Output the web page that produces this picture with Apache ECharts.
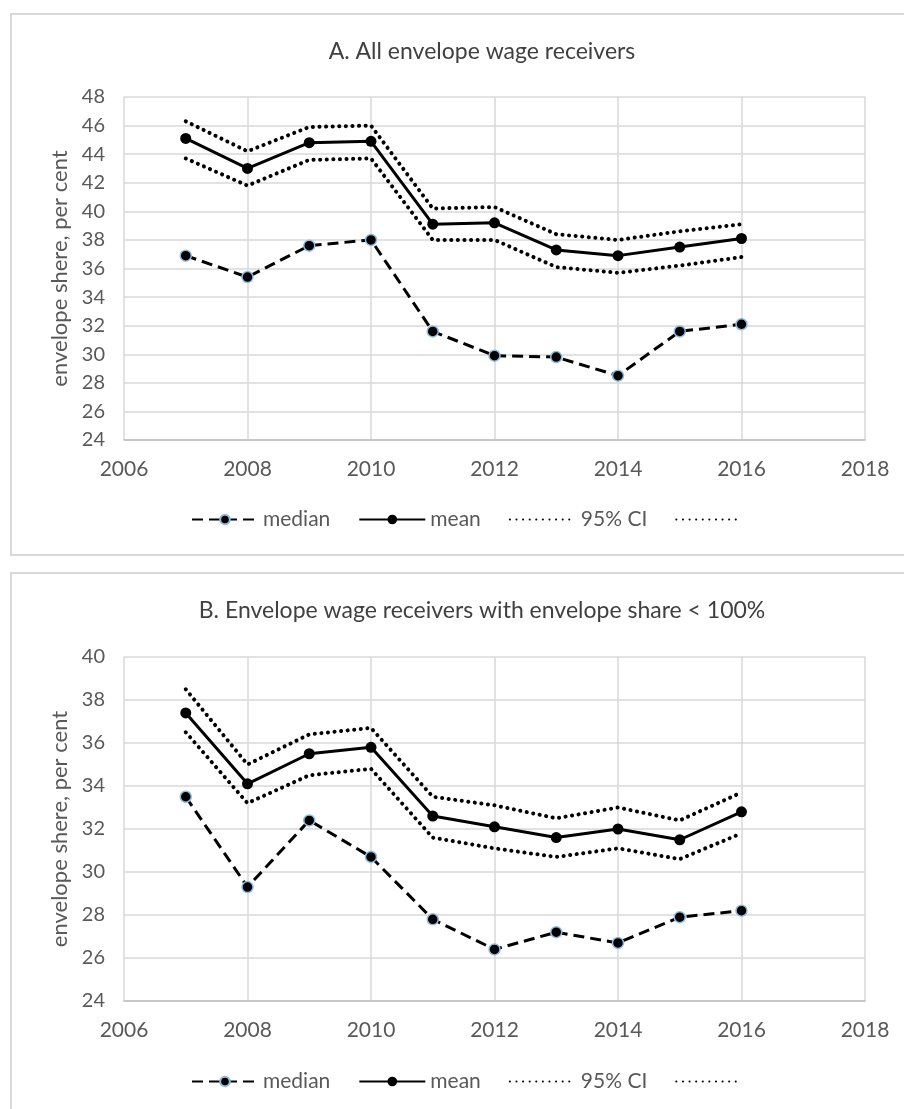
<!DOCTYPE html>
<html>
<head>
<meta charset="utf-8">
<title>envelope share</title>
<style>
  html, body, #main { margin: 0; padding: 0; width: 904px; height: 1109px; background: #fff; }
</style>
</head>
<body>
<div id="main"></div>
<script src="https://cdn.jsdelivr.net/npm/echarts@6/dist/echarts.min.js"></script>
<script>
// years on the x axis
var years = [2007, 2008, 2009, 2010, 2011, 2012, 2013, 2014, 2015, 2016];

// panel A: all envelope wage receivers
var medianA = [36.9, 35.4, 37.6, 38.0, 31.6, 29.9, 29.8, 28.5, 31.6, 32.1];
var meanA   = [45.1, 43.0, 44.8, 44.9, 39.1, 39.2, 37.3, 36.9, 37.5, 38.1];
var upperA  = [46.3, 44.2, 45.9, 46.0, 40.2, 40.3, 38.4, 38.0, 38.6, 39.1];
var lowerA  = [43.7, 41.8, 43.6, 43.7, 38.0, 38.0, 36.1, 35.7, 36.2, 36.8];

// panel B: envelope share < 100%
var medianB = [33.5, 29.3, 32.4, 30.7, 27.8, 26.4, 27.2, 26.7, 27.9, 28.2];
var meanB   = [37.4, 34.1, 35.5, 35.8, 32.6, 32.1, 31.6, 32.0, 31.5, 32.8];
var upperB  = [38.5, 35.0, 36.4, 36.7, 33.5, 33.1, 32.5, 33.0, 32.4, 33.7];
var lowerB  = [36.5, 33.2, 34.5, 34.8, 31.6, 31.1, 30.7, 31.1, 30.6, 31.8];

var titles = ['A. All envelope wage receivers', 'B. Envelope wage receivers with envelope share < 100%'];
var yName = 'envelope shere, per cent';
var legendNames = ['median', 'mean', '95% CI', ' '];

var FONT = 'Lato, "Open Sans", sans-serif';
var GREY = '#595959';

function pairs(vals) {
  return vals.map(function (v, i) { return [years[i], v]; });
}

var chart = echarts.init(document.getElementById('main'), null, { renderer: 'canvas' });

function xAxis(idx) {
  return {
    type: 'value', gridIndex: idx, min: 2006, max: 2018, interval: 2,
    axisLine: { show: true, lineStyle: { color: '#bfbfbf', width: 1.5 } },
    axisTick: { show: false },
    splitLine: { show: true, lineStyle: { color: '#d9d9d9', width: 1.5 } },
    axisLabel: { color: GREY, fontSize: 21, fontFamily: FONT, margin: 19,
      formatter: function (v) { return String(v); } }
  };
}

function yAxis(idx, max) {
  return {
    type: 'value', gridIndex: idx, min: 24, max: max, interval: 2,
    name: yName, nameLocation: 'middle', nameGap: 53, nameRotate: 90,
    nameTextStyle: { color: GREY, fontSize: 22, fontFamily: FONT },
    axisLine: { show: false },
    axisTick: { show: false },
    splitLine: { show: true, lineStyle: { color: '#d9d9d9', width: 1.5 } },
    axisLabel: { color: GREY, fontSize: 20, fontFamily: FONT, margin: 19 }
  };
}

function seriesFor(idx, med, mean, up, lo) {
  var base = { type: 'line', xAxisIndex: idx, yAxisIndex: idx, animation: false, z: 3 };
  var dots = { color: '#000', width: 4, type: [0.1, 6.5], cap: 'round' };
  return [
    Object.assign({}, base, {
      name: 'median', data: pairs(med),
      symbol: 'circle', symbolSize: 11,
      lineStyle: { color: '#000', width: 3, type: [11, 6] },
      itemStyle: { color: '#000', borderColor: '#8dbbe3', borderWidth: 1.5 }
    }),
    Object.assign({}, base, {
      name: 'mean', data: pairs(mean),
      symbol: 'circle', symbolSize: 11,
      lineStyle: { color: '#000', width: 3 },
      itemStyle: { color: '#000' }
    }),
    Object.assign({}, base, {
      name: '95% CI', data: pairs(up), symbol: 'none',
      lineStyle: dots, itemStyle: { color: '#000' }
    }),
    Object.assign({}, base, {
      name: ' ', data: pairs(lo), symbol: 'none',
      lineStyle: dots, itemStyle: { color: '#000' }
    })
  ];
}

function legend(top) {
  return {
    top: top, left: 186, itemWidth: 66, itemHeight: 12, itemGap: 28,
    textStyle: { color: GREY, fontSize: 21, fontFamily: FONT },
    selectedMode: false,
    data: legendNames.map(function (n, i) {
      // CI entries carry no marker
      return i < 2 ? { name: n } : { name: n, itemStyle: { opacity: 0 } };
    })
  };
}

var option = {
  backgroundColor: '#fff',
  title: [
    { text: titles[0], left: 477, top: 35, textAlign: 'center',
      textStyle: { color: '#404040', fontSize: 23, fontWeight: 'normal', fontFamily: FONT } },
    { text: titles[1], left: 477, top: 594, textAlign: 'center',
      textStyle: { color: '#404040', fontSize: 23, fontWeight: 'normal', fontFamily: FONT } }
  ],
  legend: [legend(504), legend(1066)],
  grid: [
    { left: 124, right: 39, top: 97, height: 343 },
    { left: 124, right: 39, top: 657, height: 344 }
  ],
  xAxis: [xAxis(0), xAxis(1)],
  yAxis: [yAxis(0, 48), yAxis(1, 40)],
  series: seriesFor(0, medianA, meanA, upperA, lowerA).concat(seriesFor(1, medianB, meanB, upperB, lowerB)),
  graphic: [
    { type: 'rect', shape: { x: 11, y: 14, width: 920, height: 541 },
      style: { fill: 'none', stroke: '#d9d9d9', lineWidth: 2 }, silent: true },
    { type: 'rect', shape: { x: 11, y: 573, width: 920, height: 560 },
      style: { fill: 'none', stroke: '#d9d9d9', lineWidth: 2 }, silent: true }
  ]
};

chart.setOption(option);
</script>
</body>
</html>
